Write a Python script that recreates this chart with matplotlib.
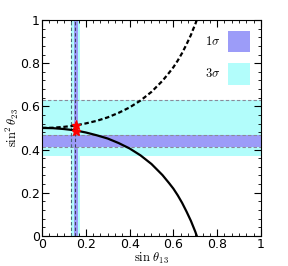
import matplotlib
matplotlib.use("Agg")
import matplotlib.pyplot as plt
from matplotlib.ticker import MultipleLocator
from matplotlib.patches import Rectangle

plt.rcParams['mathtext.fontset'] = 'cm'
plt.rcParams['font.family'] = ['DejaVu Sans']

# band limits
s23_3sigma = [0.372, 0.630]
s23_1sigma = [0.413, 0.469]
s13_3sigma = [0.132, 0.174]
s13_1sigma = [0.146, 0.164]
s23_dashed = [0.630, 0.469, 0.413]
s13_dashed = [0.132, 0.152]

# upper (dashed) and lower (solid) curves
curve_x = [0.00, 0.05, 0.10, 0.15, 0.20, 0.25, 0.30, 0.35, 0.40, 0.45, 0.50,
           0.55, 0.58, 0.60, 0.62, 0.64, 0.66, 0.68, 0.69, 0.70, 0.707]
upper_y = [0.500, 0.501, 0.505, 0.511, 0.521, 0.533, 0.549, 0.570, 0.595, 0.627, 0.667,
           0.718, 0.755, 0.781, 0.812, 0.847, 0.887, 0.930, 0.956, 0.980, 1.000]
lower_y = [0.500, 0.499, 0.495, 0.489, 0.479, 0.466, 0.451, 0.430, 0.405, 0.373, 0.333,
           0.282, 0.245, 0.219, 0.188, 0.153, 0.113, 0.070, 0.045, 0.020, 0.000]

# best fit points (stars)
star_x = [0.155, 0.157]
star_y = [0.515, 0.486]

legend_labels = [r'$1\sigma$', r'$3\sigma$']
purple = '#9c9cf8'
cyan = '#b2fdfb'

fig = plt.figure(figsize=(2.88, 2.66), dpi=100)
ax = fig.add_axes([0.146, 0.113, 0.76, 0.812])

ax.axhspan(s23_3sigma[0], s23_3sigma[1], color=cyan, lw=0, zorder=1)
ax.axhspan(s23_1sigma[0], s23_1sigma[1], color=purple, lw=0, zorder=2)
ax.axvspan(s13_3sigma[0], s13_3sigma[1], color=cyan, lw=0, zorder=1)
ax.axvspan(s13_1sigma[0], s13_1sigma[1], color=purple, lw=0, zorder=2)

for y in s23_dashed:
    ax.axhline(y, color='#8a8a9a', ls=(0, (3, 2)), lw=0.8, zorder=3)
ax.axvline(s13_dashed[0], color='#4a6a7a', ls=(0, (3, 2)), lw=0.8, zorder=3)
ax.axvline(s13_dashed[1], color='#404060', ls=(0, (3, 2)), lw=0.8, zorder=3)

ax.plot(curve_x, upper_y, color='black', lw=1.6, ls=(0, (2, 1.2)), zorder=4)
ax.plot(curve_x, lower_y, color='black', lw=1.6, zorder=4)
ax.plot(star_x, star_y, ls='none', marker='*', color='red', ms=6.5, zorder=5)

# legend boxes
ax.add_patch(Rectangle((0.849, 0.852), 0.101, 0.097, color=purple, lw=0, zorder=3))
ax.add_patch(Rectangle((0.849, 0.700), 0.101, 0.100, color=cyan, lw=0, zorder=3))
ax.text(0.78, 0.90, legend_labels[0], ha='center', va='center', fontsize=9, zorder=3)
ax.text(0.78, 0.75, legend_labels[1], ha='center', va='center', fontsize=9, zorder=3)

ax.set_xlim(0, 1)
ax.set_ylim(0, 1)
ax.xaxis.set_major_locator(MultipleLocator(0.2))
ax.yaxis.set_major_locator(MultipleLocator(0.2))
ax.xaxis.set_minor_locator(MultipleLocator(0.2 / 6))
ax.yaxis.set_minor_locator(MultipleLocator(0.04))
ax.xaxis.set_major_formatter(plt.FuncFormatter(lambda v, p: '%g' % round(v, 2)))
ax.yaxis.set_major_formatter(plt.FuncFormatter(lambda v, p: '%g' % round(v, 2)))
ax.tick_params(which='both', direction='in', top=True, right=True, labelsize=9, pad=1.5)
ax.tick_params(which='major', length=5, width=0.8)
ax.tick_params(which='minor', length=2.5, width=0.6)
for sp in ax.spines.values():
    sp.set_linewidth(0.8)
    sp.set_zorder(6)

ax.set_xlabel(r'$\sin\,\theta_{\mathbf{13}}$', fontsize=9, labelpad=0)
ax.set_ylabel(r'$\sin^2\theta_{\mathbf{23}}$', fontsize=9, labelpad=-1)

fig.savefig('out.png', dpi=100)
